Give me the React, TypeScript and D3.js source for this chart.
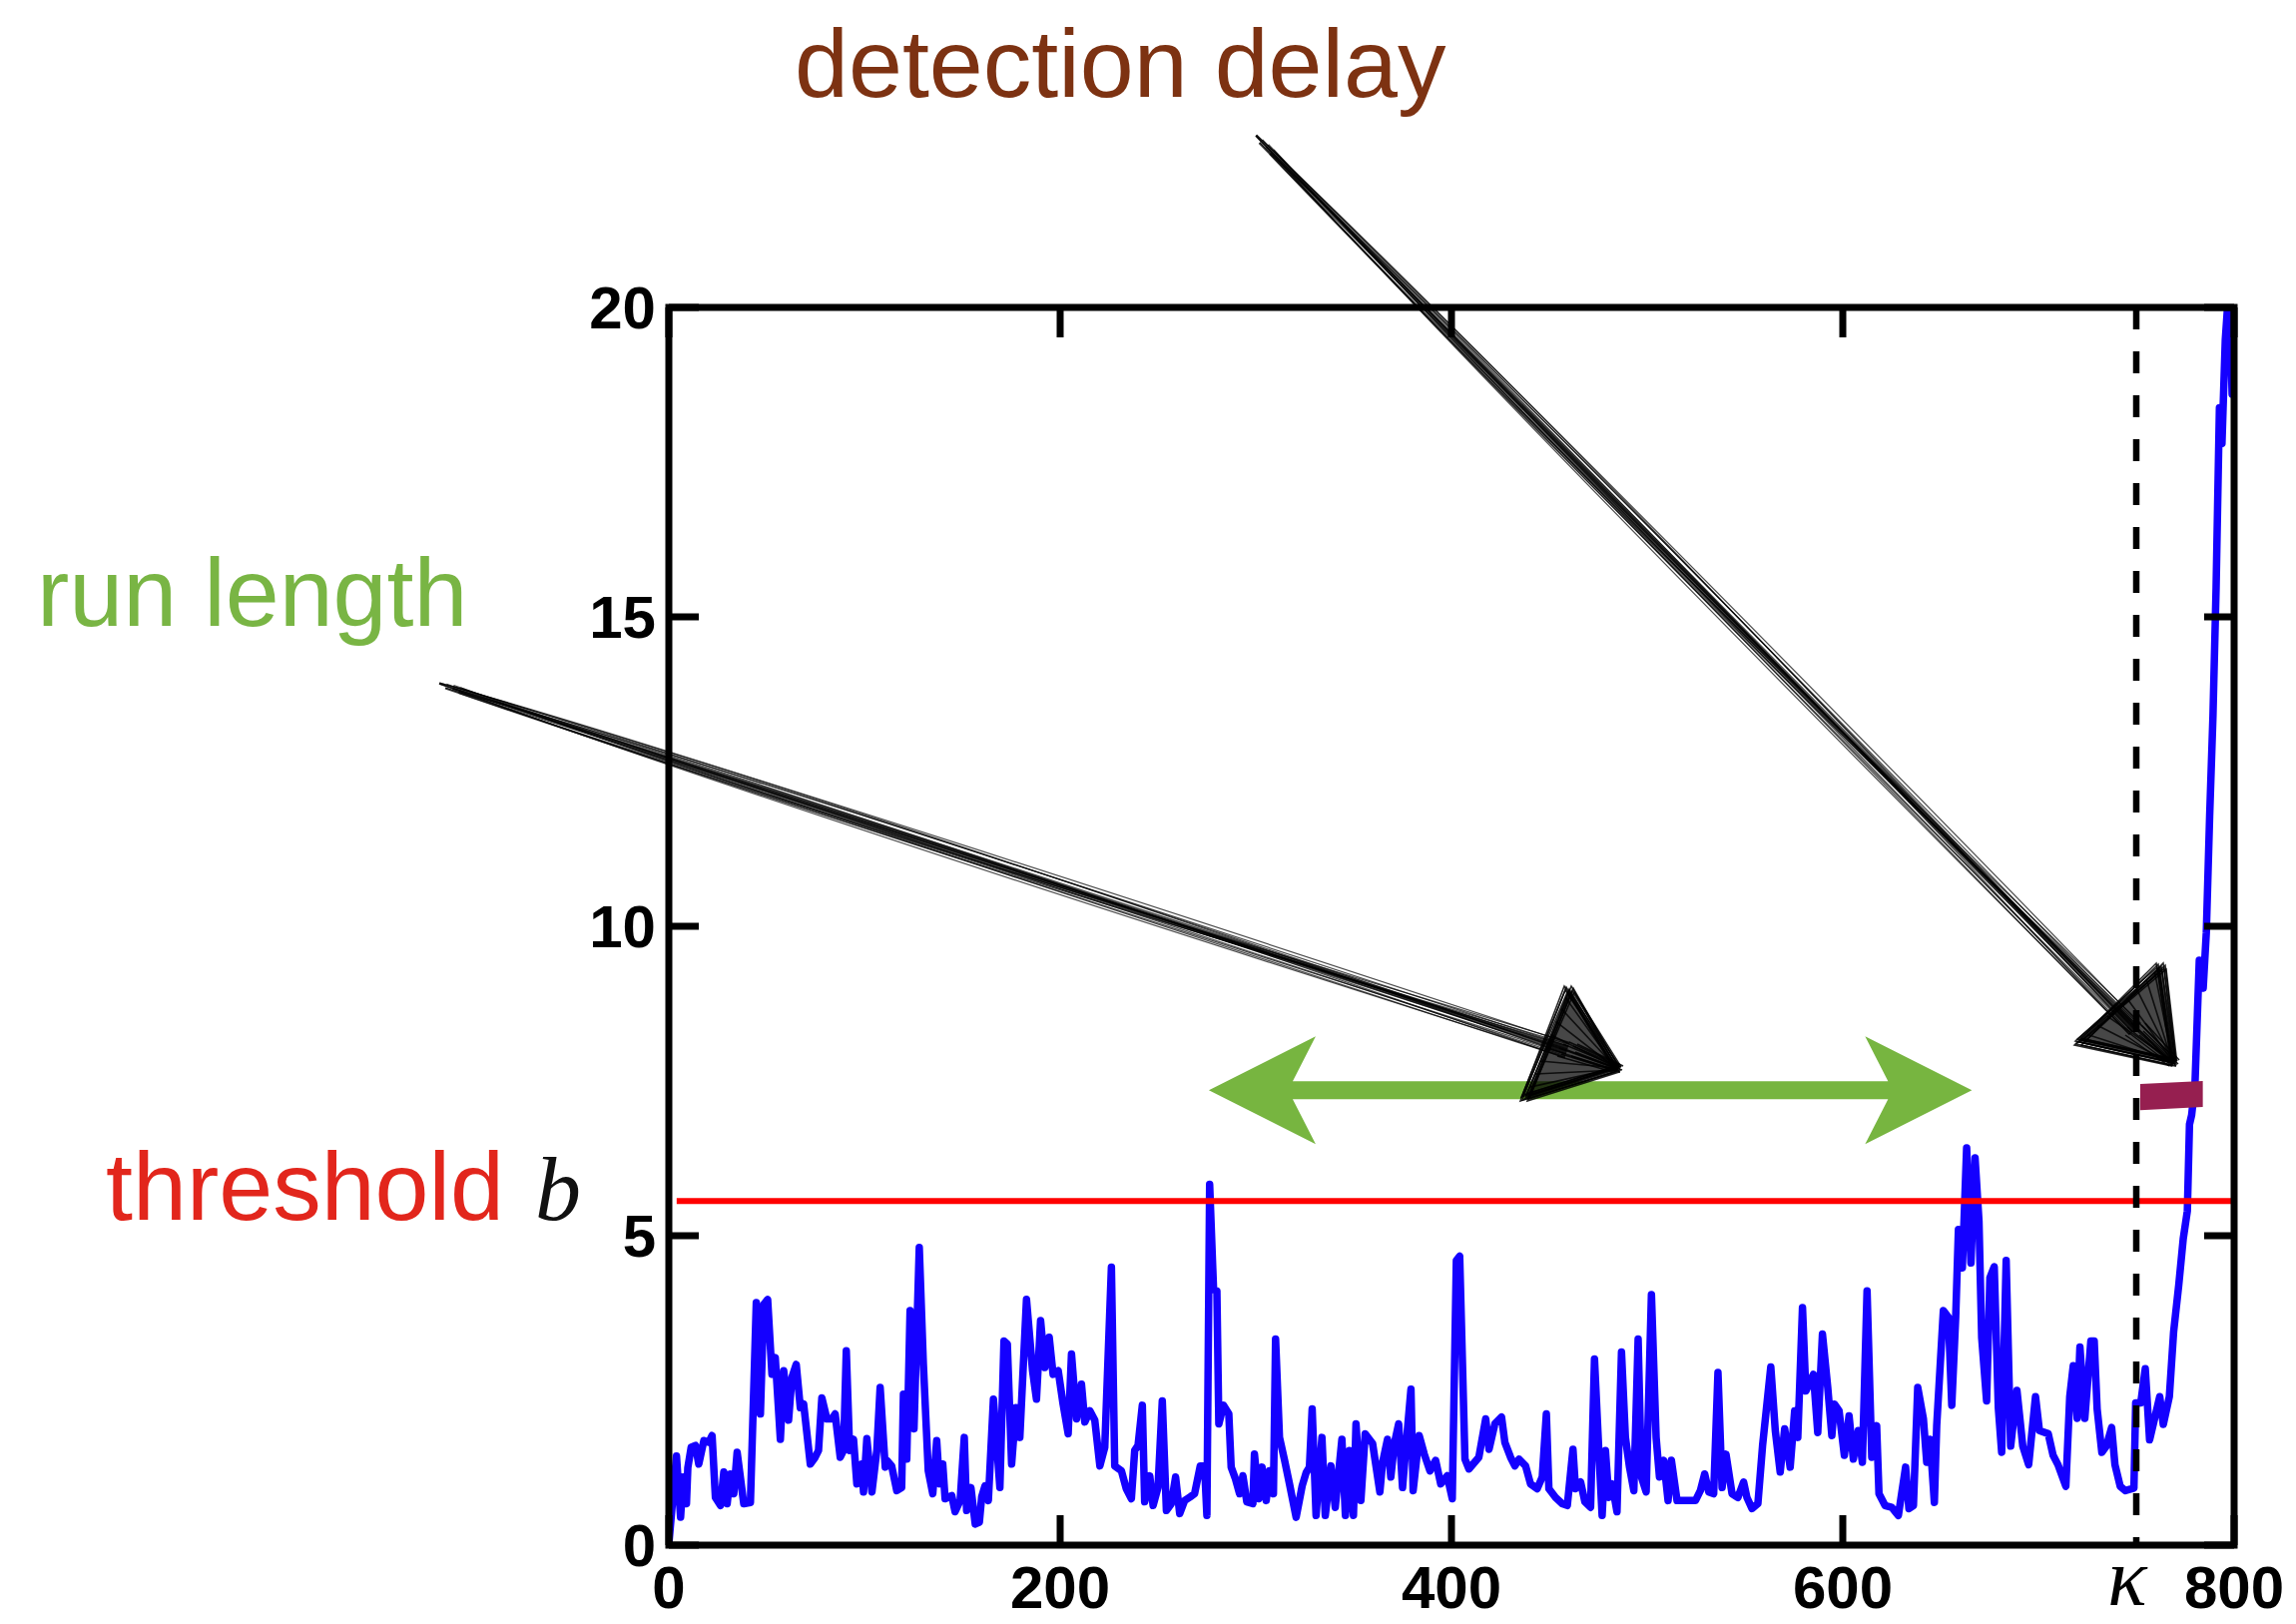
import React from 'react';
import * as d3 from 'd3';

const W = 2300;
const H = 1627;

// Detection statistic as [time, value] vertices
const stat0to110: number[][] = [
  [0, 0.02], [3.9, 1.44], [6, 0.45], [7.3, 1.1], [9, 0.67], [9.7, 1.25], [11.4, 1.58], [13.6, 1.61],
  [15.3, 1.31], [17.9, 1.69], [20.4, 1.66], [22.1, 1.77], [23.8, 0.77], [26.4, 0.64], [28.1, 1.18],
  [29.8, 0.67], [31.5, 1.15], [33.2, 0.83], [34.9, 1.5], [38.3, 0.67], [41.7, 0.69], [44.7, 3.92],
  [46.8, 2.12], [48.5, 3.89], [50.5, 3.97], [52.7, 2.76], [54.4, 3.03], [57, 1.71], [58.7, 2.82],
  [61.2, 2.02], [62.9, 2.71], [65.1, 2.92], [67.2, 2.22], [68.9, 2.28], [72.3, 1.31], [74.8, 1.42],
  [76.5, 1.53], [78.2, 2.38], [80.8, 2.04], [83.3, 2.04], [85, 2.12], [87.6, 1.42], [89.3, 1.53],
  [90.7, 3.14], [92.4, 1.53], [94.4, 1.71], [96.1, 0.99], [98.6, 1.31], [99.5, 0.86], [101.2, 1.72],
  [103.8, 0.86], [106.3, 1.53], [108, 2.55], [110.6, 1.26],
];
const stat110to222: number[][] = [
  [111.4, 1.37], [113.9, 1.28], [116.5, 0.88], [119, 0.93], [119.9, 2.44], [121.6, 1.39], [123.3, 3.79],
  [125.3, 1.88], [128, 4.81], [130.1, 2.92], [132.6, 1.2], [134.9, 0.83], [136.9, 1.69], [138.3, 0.99],
  [140, 1.31], [141.2, 0.75], [144.6, 0.8], [146.3, 0.54], [148.9, 0.72], [151, 1.74], [152.2, 0.56],
  [154.4, 0.93], [156.6, 0.34], [158.7, 0.37], [159.9, 0.78], [161.6, 0.96], [163.3, 0.72], [165.9, 2.36],
  [169.2, 0.93], [171.3, 3.3], [173, 3.25], [175.2, 1.31], [177.4, 2.22], [179.4, 1.74], [182.8, 3.97],
  [185.9, 2.82], [187.9, 2.36], [190, 3.63], [192.2, 2.87], [194.4, 3.36], [196.4, 2.76], [199, 2.82],
  [201.5, 2.28], [204.1, 1.8], [205.8, 3.09], [208.4, 2.04], [210.9, 2.6], [212.6, 1.99], [215.2, 2.17],
  [217.7, 2.02], [220.3, 1.28], [222.8, 1.58],
];
const stat222to335: number[][] = [
  [226.2, 4.49], [227.9, 1.28], [231.3, 1.2], [233.8, 0.91], [236.4, 0.75], [238.1, 1.53], [239.8, 1.61],
  [242, 2.26], [243.2, 0.7], [245.8, 1.12], [247.5, 0.64], [250, 0.93], [252.2, 2.33], [254.3, 0.56],
  [256.8, 0.67], [259, 1.1], [261.1, 0.51], [263.6, 0.72], [266.5, 0.78], [268.7, 0.83], [271.6, 1.28],
  [273.8, 1.28], [275, 0.48], [276.4, 5.83], [278.4, 4.13], [280.1, 4.11], [281.1, 1.96], [283.5, 2.26],
  [286.2, 2.12], [287.4, 1.26], [289.6, 1.07], [291.7, 0.83], [293.4, 1.12], [295.4, 0.7], [298.5, 0.67],
  [299.3, 1.47], [301.5, 0.75], [303.2, 1.26], [305.3, 0.72], [307, 1.2], [309, 0.83], [310.1, 3.33],
  [312.1, 1.74], [314.7, 1.37], [317.2, 0.99], [320.6, 0.45], [323.7, 0.96], [325.7, 1.17], [327.4, 1.26],
  [328.8, 2.2], [330.8, 0.48], [333.8, 1.74], [335.5, 0.48],
];
const stat335to447: number[][] = [
  [338.4, 1.28], [340.6, 0.61], [344, 1.71], [345.8, 0.48], [347.8, 1.53], [349.9, 0.48], [351.2, 1.96],
  [353.7, 0.72], [355.9, 1.8], [359.7, 1.64], [363.4, 0.86], [364.8, 1.34], [367.3, 1.71], [369, 1.1],
  [370.8, 1.64], [373, 1.96], [375, 0.93], [376.7, 1.58], [379.3, 2.52], [380.4, 0.88], [383.5, 1.77],
  [386.1, 1.47], [389, 1.2], [391.9, 1.37], [394.5, 0.99], [397.8, 1.12], [400.4, 0.75], [402.5, 4.6],
  [404.2, 4.67], [406.9, 1.39], [408.9, 1.23], [414, 1.42], [417.5, 2.04], [419.2, 1.55], [422.2, 1.96],
  [425.6, 2.07], [427.3, 1.66], [430.2, 1.42], [432.4, 1.28], [434.5, 1.39], [437.9, 1.28], [440.4, 0.99],
  [443.8, 0.91], [446.4, 1.1],
];
const stat447to562: number[][] = [
  [448.5, 2.12], [449.8, 0.91], [453.2, 0.77], [456.6, 0.67], [459.2, 0.64], [462.1, 1.55], [463.4, 0.91],
  [466, 1.02], [468.2, 0.7], [471.1, 0.61], [473.1, 3.01], [475.3, 1.53], [477, 0.48], [478.7, 1.53],
  [480.4, 0.77], [482.1, 0.99], [484.6, 0.54], [486.9, 3.12], [488.9, 1.74], [491, 1.26], [493.2, 0.88],
  [495.4, 3.33], [497.1, 1.1], [499.5, 0.86], [502.2, 4.05], [504.6, 1.74], [506.3, 1.1], [508.5, 1.37],
  [510.7, 0.72], [512.4, 1.37], [515.3, 0.72], [518.7, 0.72], [521.3, 0.72], [524.7, 0.72], [527.2, 0.88],
  [529.4, 1.15], [531.5, 0.86], [534, 0.83], [536.2, 2.79], [538.3, 0.93], [540.3, 1.47], [543.4, 0.83],
  [546.4, 0.77], [549.3, 1.02], [551, 0.77], [553.6, 0.59], [556.6, 0.67], [559, 1.61],
];
const stat562to686: number[][] = [
  [563.2, 2.88], [565.5, 1.85], [568, 1.18], [570.3, 1.88], [573.1, 1.26], [575.4, 2.17], [577, 1.74],
  [579.4, 3.84], [581.1, 2.49], [585, 2.76], [587.2, 1.82], [589.6, 3.41], [592.3, 2.55], [594.4, 1.77],
  [595.7, 2.28], [598.1, 2.17], [600.8, 1.45], [603.2, 2.09], [605.4, 1.39], [607.9, 1.85], [610, 1.34],
  [612.4, 4.11], [614.8, 1.42], [617.3, 1.93], [618.5, 0.83], [621.6, 0.64], [625, 0.61], [628.4, 0.48],
  [632.1, 1.26], [633.8, 0.59], [636.1, 0.64], [638.3, 2.55], [641.2, 2.04], [642.9, 1.34], [644.6, 1.71],
  [646.8, 0.69], [648, 1.93], [651.4, 3.79], [654, 3.68], [655.7, 2.26], [657.7, 3.68], [659.1, 5.1],
  [661.1, 4.48], [663.3, 6.42], [665.5, 4.56], [667.6, 6.26], [669.6, 5.24], [671, 3.35], [673.5, 2.33],
  [675.2, 4.32], [677.4, 4.5], [679.5, 2.22], [681.2, 1.5], [683.5, 4.6], [685.8, 1.6],
];
const stat686to800: number[][] = [
  [689, 2.5], [692, 1.6], [695, 1.3], [698.5, 2.4], [700.5, 1.85], [705, 1.8], [707.5, 1.45], [710, 1.3],
  [714, 0.95], [716, 2.4], [717.8, 2.9], [719.8, 2.05], [721.2, 3.2], [723.7, 2.05], [726.8, 3.3],
  [728.5, 3.3], [730, 2.2], [732.4, 1.5], [734.7, 1.6], [737.4, 1.9], [739.1, 1.3], [741.8, 0.95],
  [744.4, 0.88], [748.8, 0.92], [749.7, 2.3], [752.3, 2.3], [754.6, 2.85], [756.8, 1.7], [759.4, 2.05],
  [762, 2.4], [763.8, 1.95], [766.9, 2.4], [769.1, 3.45], [771.7, 4.2], [774, 4.95], [776.1, 5.4],
  [777.2, 6.8], [778.3, 6.95], [780, 7.44], [782.2, 9.45], [784.2, 9.0], [785.8, 9.9], [787.5, 11.78],
  [789.2, 13.4], [790.8, 15.47], [792.5, 18.38], [793.8, 17.8], [795.5, 19.48], [797.5, 20.4],
  [799, 18.6], [800, 18.7],
];

const xTicks = [0, 200, 400, 600, 800];
const yTicks = [0, 5, 10, 15, 20];
const threshold = 5.56;
const thresholdStart = 4;
const changePoint = 750;
const runLengthSpan = [276, 666];
const runLengthLevel = 7.35;
const delaySpan = [752, 784];
const delayLevels = [7.03, 7.45, 7.5, 7.08]; // left-bottom, left-top, right-top, right-bottom

// Hand-drawn stroke offsets (start, middle, end), perpendicular px
const shaftJitter = [
  [0, 0, 0], [2, 9, 4], [-2, -8, -4], [1, 13, 7], [-1, -12, -7], [3, 6, -3],
  [-3, 3, 6], [2, -13, 1], [0, 15, -6], [-2, 7, 8], [1, -4, 3], [3, 10, -8],
  [-1, -15, 4], [2, 1, -1], [0, -9, 8], [-3, 12, -4],
];
const headJitter = [
  [0, 0], [3, -2], [-3, 2], [2, 3], [-2, -3], [4, 1], [-4, -1], [1, -4], [5, -3], [-5, 3],
];
const headHatch = [0.1, 0.22, 0.34, 0.46, 0.58, 0.7, 0.82, 0.92];

type Pt = [number, number];

function SketchArrow({ s, e, head, mid }: { s: Pt; e: Pt; head: Pt[]; mid: number }) {
  const dx = e[0] - s[0];
  const dy = e[1] - s[1];
  const len = Math.hypot(dx, dy);
  const nx = -dy / len;
  const ny = dx / len;
  const mx = s[0] + dx * mid;
  const my = s[1] + dy * mid;
  const strokes = shaftJitter.map(([a, m, b], i) => {
    const p0 = [s[0] + nx * a + (i % 4) * dx * 0.006, s[1] + ny * a + (i % 4) * dy * 0.006];
    const p1 = [mx + nx * m, my + ny * m];
    const p2 = [e[0] + nx * b, e[1] + ny * b];
    return `M${p0[0]},${p0[1]} Q${p1[0]},${p1[1]} ${p2[0]},${p2[1]}`;
  });
  const wedge = [
    [s[0] + nx * 0.8, s[1] + ny * 0.8],
    [mx + nx * 3, my + ny * 3],
    [e[0] + nx * 2.5, e[1] + ny * 2.5],
    [e[0] - nx * 2.5, e[1] - ny * 2.5],
    [mx - nx * 3, my - ny * 3],
    [s[0] - nx * 0.8, s[1] - ny * 0.8],
  ];
  const [A, B, T] = head;
  return (
    <g>
      <polygon points={wedge.map((p) => p.join(',')).join(' ')} fill="#000" opacity={0.7} />
      {strokes.map((d, i) => (
        <path key={i} d={d} fill="none" stroke="#000" strokeWidth={1.2} opacity={0.7} />
      ))}
      <polygon points={head.map((p) => p.join(',')).join(' ')} fill="#000" opacity={0.72} />
      {headJitter.map(([ox, oy], i) => (
        <polygon
          key={'h' + i}
          points={head.map((p, j) => `${p[0] + ox * (j === 2 ? 0.5 : 1)},${p[1] + oy * (j === 1 ? -1 : 1)}`).join(' ')}
          fill="none"
          stroke="#000"
          strokeWidth={1.5}
          opacity={0.85}
        />
      ))}
      {headHatch.map((f, i) => {
        const p = [A[0] + (B[0] - A[0]) * f, A[1] + (B[1] - A[1]) * f];
        return (
          <path key={'c' + i} d={`M${p[0]},${p[1]} L${T[0] - 2 + (i % 3)},${T[1] - 1 + (i % 2) * 2}`} stroke="#000" strokeWidth={1.6} opacity={0.8} />
        );
      })}
      {headJitter.map(([ox, oy], i) => (
        <path
          key={'l' + i}
          d={`M${e[0] + ox * 2},${e[1] + oy * 2} L${T[0] + ox},${T[1] + oy}`}
          stroke="#000"
          strokeWidth={1.5}
          opacity={0.85}
        />
      ))}
    </g>
  );
}

export default function App() {
  const x = d3.scaleLinear().domain([0, 800]).range([670, 2238]);
  const y = d3.scaleLinear().domain([0, 20]).range([1548, 308]);
  const data = [
    ...stat0to110, ...stat110to222, ...stat222to335, ...stat335to447,
    ...stat447to562, ...stat562to686, ...stat686to800,
  ];
  const line = d3.line<number[]>().x((d) => x(d[0])).y((d) => y(d[1]));

  const x0 = x(0), x1 = x(800), y0 = y(0), y1 = y(20);
  const tickLen = 30;
  const axisW = 7;
  const tickFont = 60;
  const labelFont = 'Liberation Sans, Arial, Helvetica, sans-serif';

  // green double arrow
  const gl = x(runLengthSpan[0]);
  const gr = x(runLengthSpan[1]);
  const gy = y(runLengthLevel);
  const headL = 107, headHalf = 54, notch = 23, shaftHalf = 9;
  const green = [
    [gl, gy], [gl + headL, gy - headHalf], [gl + headL - notch, gy - shaftHalf],
    [gr - headL + notch, gy - shaftHalf], [gr - headL, gy - headHalf], [gr, gy],
    [gr - headL, gy + headHalf], [gr - headL + notch, gy + shaftHalf],
    [gl + headL - notch, gy + shaftHalf], [gl + headL, gy + headHalf],
  ];

  const bar = [
    [x(delaySpan[0]), y(delayLevels[0])], [x(delaySpan[0]), y(delayLevels[1])],
    [x(delaySpan[1]), y(delayLevels[2])], [x(delaySpan[1]), y(delayLevels[3])],
  ];

  return (
    <svg width={W} height={H} style={{ position: 'absolute', left: 0, top: 0, background: '#fff' }}>
      <defs>
        <clipPath id="plotClip">
          <rect x={x0} y={y1} width={x1 - x0} height={y0 - y1} />
        </clipPath>
      </defs>
      <rect x={0} y={0} width={W} height={H} fill="#fff" />

      <path d={line(data) || ''} fill="none" stroke="#1400ff" strokeWidth={7.5} strokeLinejoin="round" clipPath="url(#plotClip)" />
      <line x1={x(thresholdStart)} x2={x1} y1={y(threshold)} y2={y(threshold)} stroke="#ff0000" strokeWidth={6} />
      <line x1={x(changePoint)} x2={x(changePoint)} y1={y1} y2={y0} stroke="#000" strokeWidth={6.5} strokeDasharray="22 22" />

      {/* frame */}
      <rect x={x0} y={y1} width={x1 - x0} height={y0 - y1} fill="none" stroke="#000" strokeWidth={axisW} />
      {xTicks.map((t) => (
        <g key={'xt' + t}>
          <line x1={x(t)} x2={x(t)} y1={y0} y2={y0 - tickLen} stroke="#000" strokeWidth={axisW} />
          <line x1={x(t)} x2={x(t)} y1={y1} y2={y1 + tickLen} stroke="#000" strokeWidth={axisW} />
          <text x={x(t)} y={1611} textAnchor="middle" fontFamily={labelFont} fontWeight="bold" fontSize={tickFont}>{t}</text>
        </g>
      ))}
      {yTicks.map((v) => (
        <g key={'yt' + v}>
          <line x1={x0} x2={x0 + tickLen} y1={y(v)} y2={y(v)} stroke="#000" strokeWidth={axisW} />
          <line x1={x1} x2={x1 - tickLen} y1={y(v)} y2={y(v)} stroke="#000" strokeWidth={axisW} />
          <text x={657} y={y(v) + 21} textAnchor="end" fontFamily={labelFont} fontWeight="bold" fontSize={tickFont}>{v}</text>
        </g>
      ))}
      <text x={x(changePoint) - 9} y={1608} textAnchor="middle" fontFamily="Liberation Serif, DejaVu Serif, serif" fontStyle="italic" fontSize={82}>κ</text>

      {/* annotations */}
      <polygon points={green.map((p) => p.join(',')).join(' ')} fill="#77b540" />
      <polygon points={bar.map((p) => p.join(',')).join(' ')} fill="#961f50" />

      <SketchArrow s={[440, 685]} e={[1570, 1052]} head={[[1528, 1100], [1572, 991], [1621, 1071]]} mid={0.3} />
      <SketchArrow s={[1258, 136]} e={[2139, 1031]} head={[[2083, 1044], [2165, 968], [2178, 1065]]} mid={0.35} />

      <text x={796} y={97} fontFamily={labelFont} fontSize={97} fill="#7d3212">detection delay</text>
      <text x={37} y={627} fontFamily={labelFont} fontSize={97} fill="#79b544">run length</text>
      <text x={106} y={1222} fontFamily={labelFont} fontSize={97} fill="#e2261c">threshold</text>
      <text x={536} y={1222} fontFamily="Liberation Serif, DejaVu Serif, serif" fontStyle="italic" fontSize={92} fill="#111">b</text>
    </svg>
  );
}
